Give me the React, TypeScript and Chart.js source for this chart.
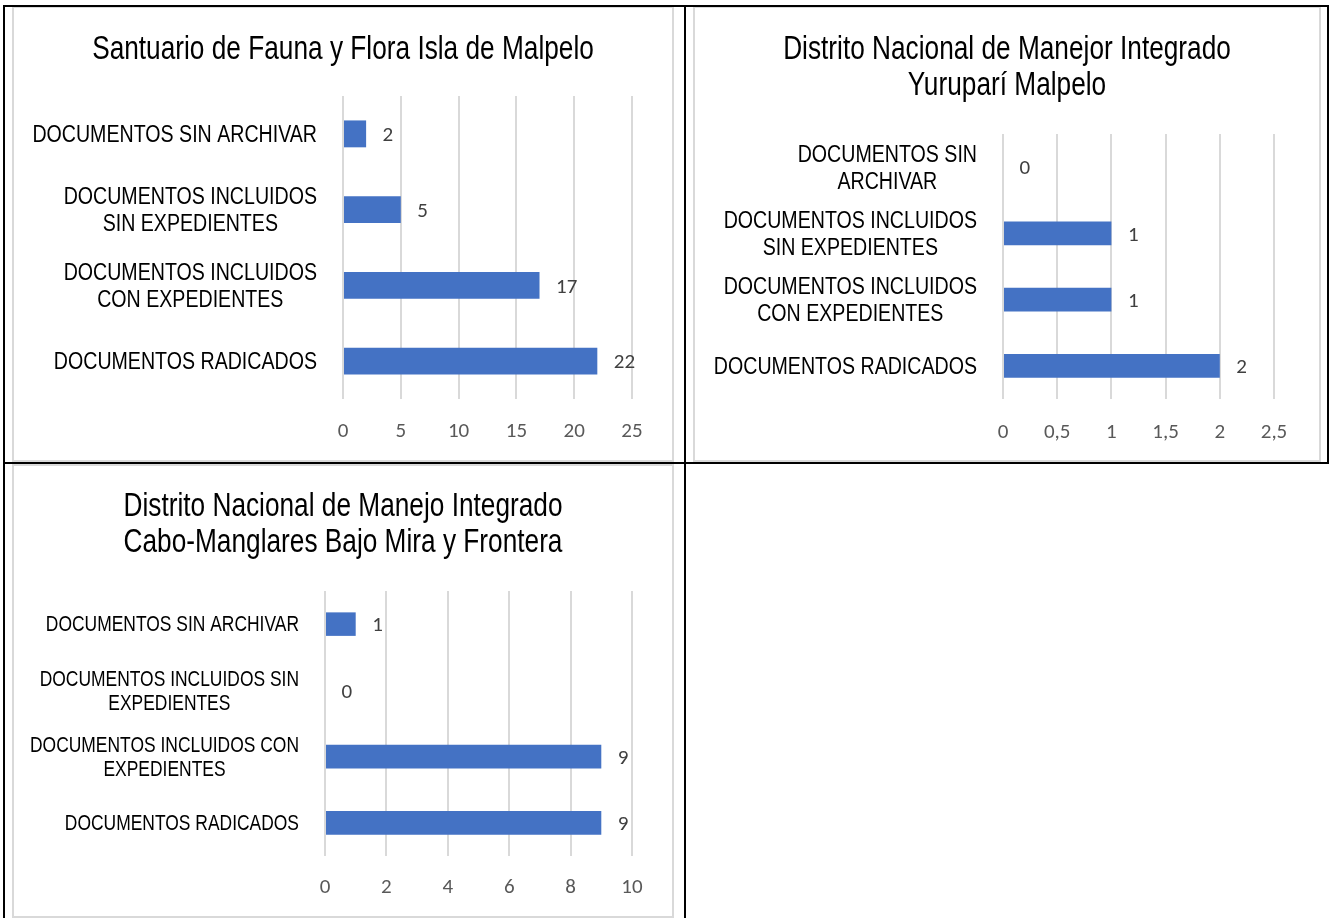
import React, { useEffect, useRef } from 'react';
import { Chart, registerables } from 'chart.js';
Chart.register(...registerables);

const TEXT_FONT = '"Liberation Sans", Arial, sans-serif';
const NUM_FONT = 'Carlito, Calibri, Lato, "Open Sans", sans-serif';
const NARROW = 0.8;
const BAR_COLOR = '#4472C4';
const GRID_COLOR = '#d9d9d9';

// Chart 1
const title1 = ['Santuario de Fauna y Flora Isla de Malpelo'];
const categories1 = [
  ['DOCUMENTOS SIN ARCHIVAR'],
  ['DOCUMENTOS INCLUIDOS', 'SIN EXPEDIENTES'],
  ['DOCUMENTOS INCLUIDOS', 'CON EXPEDIENTES'],
  ['DOCUMENTOS RADICADOS'],
];
const values1 = [2, 5, 17, 22];
const tickValues1 = [0, 5, 10, 15, 20, 25];
const tickLabels1 = ['0', '5', '10', '15', '20', '25'];

// Chart 2
const title2 = ['Distrito Nacional de Manejor Integrado', 'Yuruparí Malpelo'];
const categories2 = [
  ['DOCUMENTOS SIN', 'ARCHIVAR'],
  ['DOCUMENTOS INCLUIDOS', 'SIN EXPEDIENTES'],
  ['DOCUMENTOS INCLUIDOS', 'CON EXPEDIENTES'],
  ['DOCUMENTOS RADICADOS'],
];
const values2 = [0, 1, 1, 2];
const tickValues2 = [0, 0.5, 1, 1.5, 2, 2.5];
const tickLabels2 = ['0', '0,5', '1', '1,5', '2', '2,5'];

// Chart 3
const title3 = ['Distrito Nacional de Manejo Integrado', 'Cabo-Manglares Bajo Mira y Frontera'];
const categories3 = [
  ['DOCUMENTOS SIN ARCHIVAR'],
  ['DOCUMENTOS INCLUIDOS SIN', 'EXPEDIENTES'],
  ['DOCUMENTOS INCLUIDOS CON', 'EXPEDIENTES'],
  ['DOCUMENTOS RADICADOS'],
];
const values3 = [1, 0, 9, 9];
const tickValues3 = [0, 2, 4, 6, 8, 10];
const tickLabels3 = ['0', '2', '4', '6', '8', '10'];

type BoxProps = {
  left: number; top: number; width: number; height: number;
  title: string[]; categories: string[][]; values: number[];
  tickValues: number[]; tickLabels: string[];
  plotLeft: number; plotRight: number; plotTop: number; axisHeight: number; tickPad: number;
  titleY: number; titleLine: number;
  catSize: number; catLine: number;
};

function narrowText(ctx: CanvasRenderingContext2D, text: string, x: number, y: number) {
  ctx.save();
  ctx.translate(x, y);
  ctx.scale(NARROW, 1);
  ctx.fillText(text, 0, 0);
  ctx.restore();
}

const labelPlugin = {
  id: 'customLabels',
  afterDraw(chart: any) {
    const o = chart.options.plugins.customLabels;
    const ctx: CanvasRenderingContext2D = chart.ctx;
    const ys = chart.scales.y;
    const xs = chart.scales.x;
    const area = chart.chartArea;
    ctx.save();
    ctx.fillStyle = '#000000';
    ctx.textAlign = 'center';
    ctx.textBaseline = 'alphabetic';
    // title
    const tSize = 32.8;
    ctx.font = `${tSize}px ${TEXT_FONT}`;
    (o.title as string[]).forEach((l, j) => {
      narrowText(ctx, l, chart.width / 2, o.titleY + j * o.titleLine + 0.358 * tSize);
    });
    // category labels
    ctx.font = `${o.catSize}px ${TEXT_FONT}`;
    (chart.data.labels as string[][]).forEach((lines, i) => {
      const w = Math.max(...lines.map((l) => ctx.measureText(l).width)) * NARROW;
      const right = area.left - o.gap;
      const cx = right - w / 2;
      const yc = ys.getPixelForValue(i);
      const start = yc - ((lines.length - 1) * o.catLine) / 2;
      lines.forEach((l, j) => narrowText(ctx, l, cx, start + j * o.catLine + 0.358 * o.catSize - 0.5));
    });
    // data labels
    ctx.font = `21px ${NUM_FONT}`;
    ctx.fillStyle = '#404040';
    ctx.textAlign = 'left';
    ctx.textBaseline = 'middle';
    const data = chart.data.datasets[0].data as number[];
    data.forEach((v, i) => {
      const x = xs.getPixelForValue(v);
      const y = ys.getPixelForValue(i);
      ctx.fillText(String(v), x + 16.5, y + 2);
    });
    ctx.restore();
  },
};

function ChartBox(p: BoxProps) {
  const ref = useRef<HTMLCanvasElement>(null);
  const cw = p.width - 4;
  const ch = p.height - 4;
  useEffect(() => {
    const chart = new Chart(ref.current!, {
      type: 'bar',
      data: {
        labels: p.categories as any,
        datasets: [
          {
            data: p.values,
            backgroundColor: BAR_COLOR,
            borderWidth: 0,
            barPercentage: 0.355,
            categoryPercentage: 1,
          },
        ],
      },
      options: {
        indexAxis: 'y',
        responsive: false,
        maintainAspectRatio: false,
        animation: false,
        layout: { padding: { left: 0, right: cw - p.plotRight, top: p.plotTop, bottom: 0 } },
        plugins: {
          legend: { display: false },
          tooltip: { enabled: false },
          title: { display: false },
          customLabels: {
            catSize: p.catSize, catLine: p.catLine, gap: 26,
            title: p.title, titleY: p.titleY, titleLine: p.titleLine,
          },
        } as any,
        scales: {
          x: {
            type: 'linear',
            position: 'bottom',
            min: p.tickValues[0],
            max: p.tickValues[p.tickValues.length - 1],
            afterBuildTicks: (s: any) => {
              s.ticks = p.tickValues.map((v) => ({ value: v }));
            },
            afterFit: (s: any) => {
              s.height = p.axisHeight;
            },
            grid: { color: GRID_COLOR, lineWidth: 2, drawTicks: false },
            border: { display: false },
            ticks: {
              padding: p.tickPad,
              color: '#595959',
              font: { family: NUM_FONT, size: 21 },
              callback: (_v: any, i: number) => p.tickLabels[i],
            },
          },
          y: {
            type: 'category',
            afterFit: (s: any) => {
              s.width = p.plotLeft;
            },
            grid: { display: false },
            border: { display: false },
            ticks: { display: false },
          },
        },
      },
      plugins: [labelPlugin],
    } as any);
    return () => chart.destroy();
  }, []);
  return (
    <div
      style={{
        position: 'absolute',
        left: p.left,
        top: p.top,
        width: p.width,
        height: p.height,
        border: '2px solid #d9d9d9',
        boxSizing: 'border-box',
        background: '#ffffff',
      }}
    >
      <canvas ref={ref} width={cw} height={ch} style={{ display: 'block', width: cw, height: ch }} />
    </div>
  );
}

const line = (l: number, t: number, w: number, h: number) => (
  <div style={{ position: 'absolute', left: l, top: t, width: w, height: h, background: '#000000' }} />
);

export default function App() {
  return (
    <div style={{ position: 'absolute', left: 0, top: 0, width: 1331, height: 918, background: '#ffffff', overflow: 'hidden' }}>
      <ChartBox
        left={12} top={6} width={662} height={456}
        title={title1} categories={categories1} values={values1}
        tickValues={tickValues1} tickLabels={tickLabels1}
        plotLeft={329} plotRight={618} plotTop={88} axisHeight={61} tickPad={20}
        titleY={39} titleLine={36}
        catSize={24.5} catLine={27}
      />
      <ChartBox
        left={693} top={6} width={628} height={456}
        title={title2} categories={categories2} values={values2}
        tickValues={tickValues2} tickLabels={tickLabels2}
        plotLeft={308} plotRight={579} plotTop={126} axisHeight={61} tickPad={21}
        titleY={39} titleLine={36}
        catSize={24.5} catLine={27}
      />
      <ChartBox
        left={12} top={464} width={662} height={454}
        title={title3} categories={categories3} values={values3}
        tickValues={tickValues3} tickLabels={tickLabels3}
        plotLeft={311} plotRight={618} plotTop={125} axisHeight={60} tickPad={19}
        titleY={38} titleLine={36}
        catSize={21.8} catLine={24}
      />
      {line(3, 5, 1326, 2)}
      {line(3, 5, 2, 913)}
      {line(684, 5, 2, 913)}
      {line(1327, 5, 2, 459)}
      {line(3, 462, 1326, 2)}
    </div>
  );
}
